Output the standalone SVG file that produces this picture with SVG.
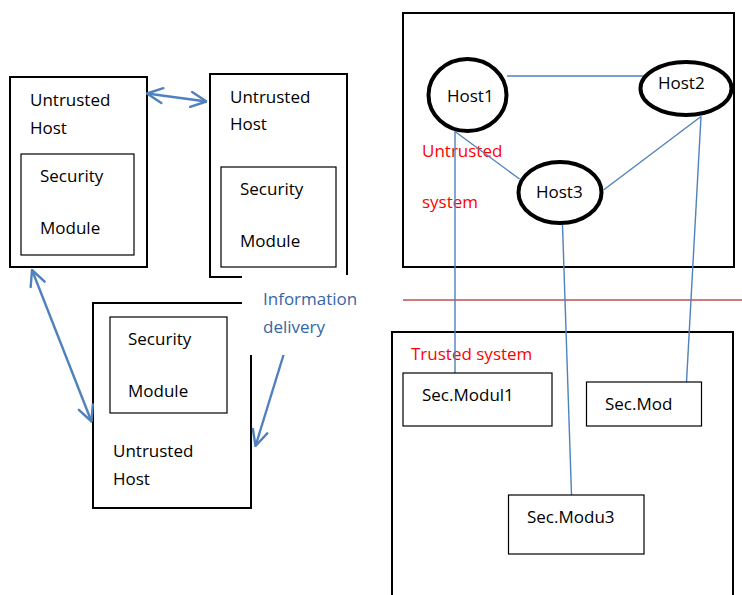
<svg xmlns="http://www.w3.org/2000/svg" width="742" height="595" viewBox="0 0 742 595">
  <defs>
    <marker id="arrow" viewBox="0 0 18 18" refX="17" refY="9" markerWidth="18" markerHeight="18" markerUnits="userSpaceOnUse" orient="auto-start-reverse">
      <path d="M1.5,1.5 L17,9 L1.5,16.5" fill="none" stroke="#4F81BD" stroke-width="2.4" stroke-linecap="round" stroke-linejoin="round"/>
    </marker>
    <style>
      text { font-family: "Open Sans", "Liberation Sans", sans-serif; font-size: 17px; fill: #000; }
      .red { fill: #FF0000; }
      .blue { fill: #3565A5; }
      .outer { fill: none; stroke: #000; stroke-width: 2; }
      .inner { fill: none; stroke: #000; stroke-width: 1.2; }
      .host { fill: none; stroke: #000; stroke-width: 4; }
      .arrow { fill: none; stroke: #4F81BD; stroke-width: 2.4; }
      .link { fill: none; stroke: #4F81BD; stroke-width: 1.4; }
    </style>
  </defs>
  <rect width="742" height="595" fill="#fff"/>

  <!-- Untrusted hosts with their security modules -->
  <g id="host-a">
    <rect class="outer" x="10" y="77" width="137" height="190"/>
    <rect class="inner" x="21" y="154" width="113" height="101"/>
    <text x="30" y="106">Untrusted</text>
    <text x="30" y="134">Host</text>
    <text x="40" y="182">Security</text>
    <text x="40" y="234">Module</text>
  </g>
  <g id="host-b">
    <path class="outer" d="M347,275 V74 H210 V277 H242"/>
    <rect class="inner" x="221" y="167" width="115" height="100"/>
    <text x="230" y="103">Untrusted</text>
    <text x="230" y="130">Host</text>
    <text x="240" y="195">Security</text>
    <text x="240" y="247">Module</text>
  </g>
  <g id="host-c">
    <path class="outer" d="M242,303 H93 V508 H251 V355"/>
    <rect class="inner" x="110" y="317" width="117" height="96"/>
    <text x="128" y="345">Security</text>
    <text x="128" y="397">Module</text>
    <text x="113" y="457">Untrusted</text>
    <text x="113" y="485">Host</text>
  </g>
  <g id="info-label">
    <text class="blue" x="263" y="305">Information</text>
    <text class="blue" x="263" y="333">delivery</text>
  </g>

  <!-- Untrusted system -->
  <g id="untrusted-system">
    <rect class="outer" x="403" y="13" width="331" height="254"/>
    <text class="red" x="422" y="157">Untrusted</text>
    <text class="red" x="422" y="208">system</text>
  </g>

  <!-- Trust boundary -->
  <line x1="403" y1="300" x2="742" y2="300" stroke="#C0504D" stroke-width="1.6"/>

  <!-- Trusted system -->
  <g id="trusted-system">
    <path class="outer" d="M392,600 V332 H733 V600"/>
    <text class="red" x="411" y="360">Trusted system</text>
  </g>

  <!-- Connectors -->
  <g id="connectors">
    <line class="arrow" x1="147" y1="93.5" x2="206.5" y2="101.5" marker-start="url(#arrow)" marker-end="url(#arrow)"/>
    <line class="arrow" x1="32" y1="270" x2="91.5" y2="421.5" marker-start="url(#arrow)" marker-end="url(#arrow)"/>
    <line class="arrow" x1="283.5" y1="355" x2="255.5" y2="446" marker-end="url(#arrow)"/>
    <line class="link" x1="507" y1="76" x2="647" y2="76"/>
    <line class="link" x1="455" y1="131.5" x2="519.5" y2="179"/>
    <line class="link" x1="701" y1="116.5" x2="603.5" y2="190"/>
    <line class="link" x1="455" y1="131.5" x2="455" y2="373"/>
    <line class="link" x1="562.5" y1="225" x2="571.5" y2="495"/>
    <line class="link" x1="701" y1="116.5" x2="686.5" y2="382"/>
  </g>

  <g id="host1">
    <ellipse class="host" cx="467.5" cy="95" rx="39" ry="36"/>
    <text x="447" y="102">Host1</text>
  </g>
  <g id="host2">
    <ellipse class="host" cx="686" cy="88.5" rx="45.5" ry="26.5"/>
    <text x="658" y="89">Host2</text>
  </g>
  <g id="host3">
    <ellipse class="host" cx="560" cy="192.5" rx="41.5" ry="30.5"/>
    <text x="536" y="198">Host3</text>
  </g>

  <g id="sec-modul1">
    <rect class="inner" x="403" y="373" width="149" height="53"/>
    <text x="422" y="401">Sec.Modul1</text>
  </g>
  <g id="sec-mod">
    <rect class="inner" x="586.5" y="382" width="115" height="44"/>
    <text x="605" y="410">Sec.Mod</text>
  </g>
  <g id="sec-modu3">
    <rect class="inner" x="508.5" y="495" width="135.5" height="59"/>
    <text x="527" y="523">Sec.Modu3</text>
  </g>
</svg>
